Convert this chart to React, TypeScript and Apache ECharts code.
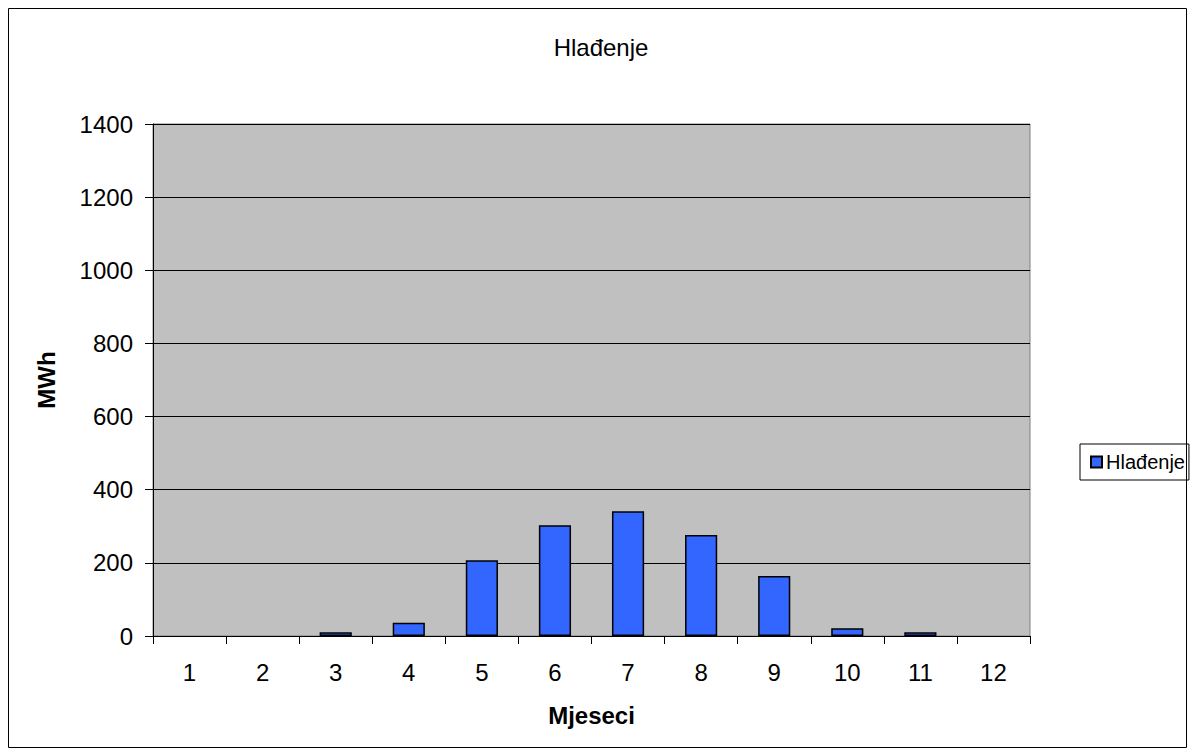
import React, { useEffect, useRef } from "react";
import * as echarts from "echarts";

const months = ["1", "2", "3", "4", "5", "6", "7", "8", "9", "10", "11", "12"];
const coolingMWh = [0, 0, 10, 36, 207, 303, 341, 276, 164, 21, 10, 0];
const seriesName = "Hlađenje";
const chartTitle = "Hlađenje";
const yAxisTitle = "MWh";
const xAxisTitle = "Mjeseci";

const FONT = "Liberation Sans, Arial, sans-serif";

export default function App() {
  const ref = useRef<HTMLDivElement>(null);
  useEffect(() => {
    if (!ref.current) return;
    const chart = echarts.init(ref.current, undefined, { renderer: "svg" });
    chart.setOption({
      animation: false,
      backgroundColor: "#ffffff",
      textStyle: { fontFamily: FONT },
      title: {
        text: chartTitle,
        left: 601,
        textAlign: "center",
        top: 35,
        padding: 0,
        textStyle: { fontFamily: FONT, fontSize: 24, fontWeight: "normal", color: "#000" },
      },
      graphic: [
        {
          type: "rect",
          shape: { x: 8.5, y: 8.5, width: 1178, height: 739 },
          style: { fill: "none", stroke: "#000", lineWidth: 1 },
          silent: true,
          z: -1,
        },
      ],
      legend: {
        left: 1080,
        top: 444,
        orient: "vertical",
        padding: [8, 4, 8, 10],
        borderColor: "#000",
        borderWidth: 1,
        itemWidth: 11,
        itemHeight: 11,
        itemGap: 4,
        icon: "rect",
        textStyle: { fontFamily: FONT, fontSize: 20, color: "#000", padding: [0, 0, 0, -1] },
        data: [seriesName],
      },
      grid: {
        left: 153,
        top: 124,
        width: 877,
        height: 512,
        show: true,
        backgroundColor: "#C0C0C0",
        borderColor: "#808080",
        borderWidth: 1,
        containLabel: false,
      },
      xAxis: {
        type: "category",
        data: months,
        name: xAxisTitle,
        nameLocation: "middle",
        nameGap: 67,
        nameTextStyle: { fontFamily: FONT, fontSize: 24, fontWeight: "bold", color: "#000" },
        axisLine: { show: true, lineStyle: { color: "#000", width: 1 } },
        axisTick: { show: true, length: 8, lineStyle: { color: "#000" } },
        axisLabel: { margin: 24, fontFamily: FONT, fontSize: 24, color: "#000" },
        splitLine: { show: false },
      },
      yAxis: {
        type: "value",
        min: 0,
        max: 1400,
        interval: 200,
        name: yAxisTitle,
        nameLocation: "middle",
        nameRotate: 90,
        nameGap: 95,
        nameTextStyle: { fontFamily: FONT, fontSize: 24, fontWeight: "bold", color: "#000" },
        axisLine: { show: true, lineStyle: { color: "#000", width: 1 } },
        axisTick: { show: true, length: 8, lineStyle: { color: "#000" } },
        axisLabel: {
          margin: 20,
          fontFamily: FONT,
          fontSize: 24,
          color: "#000",
          formatter: (v: number) => String(v),
        },
        splitLine: { show: true, lineStyle: { color: "#000", width: 1 } },
      },
      series: [
        {
          name: seriesName,
          type: "bar",
          data: coolingMWh.map((v) => (v === 0 ? null : v)),
          barWidth: "44%",
          itemStyle: { color: "#3366FF", borderColor: "#000", borderWidth: 1.5 },
        },
      ],
    });
    return () => chart.dispose();
  }, []);
  return (
    <div
      ref={ref}
      style={{ position: "absolute", left: 0, top: 0, width: 1190, height: 756 }}
    />
  );
}
